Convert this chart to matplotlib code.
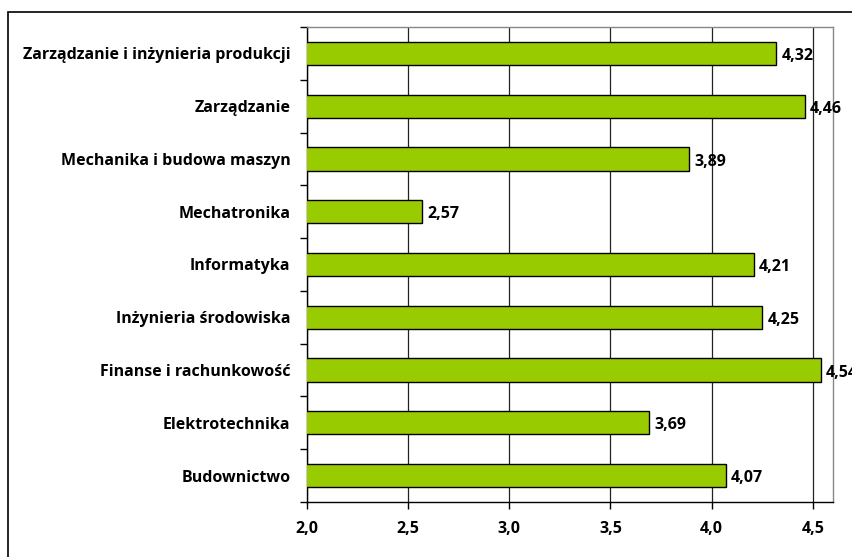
import matplotlib.pyplot as plt
from matplotlib.patches import Rectangle
from matplotlib.ticker import FixedLocator

categories = ["Zarządzanie i inżynieria produkcji", "Zarządzanie", "Mechanika i budowa maszyn",
              "Mechatronika", "Informatyka", "Inżynieria środowiska",
              "Finanse i rachunkowość", "Elektrotechnika", "Budownictwo"]
values = [4.32, 4.46, 3.89, 2.57, 4.21, 4.25, 4.54, 3.69, 4.07]
xticks = [2.0, 2.5, 3.0, 3.5, 4.0, 4.5]

plt.rcParams['font.family'] = ['Open Sans', 'DejaVu Sans']
plt.rcParams['font.weight'] = 'bold'
FS = 11.5

W, H = 852, 557
fig = plt.figure(figsize=(W / 100, H / 100), dpi=100)
ax = fig.add_axes([307 / W, (H - 502) / H, (833 - 307) / W, (502 - 27) / H])

# outer frame of the chart object (runs off the right and bottom edges)
fig.patches.append(Rectangle((8 / W, -0.1), 1.2, (H - 12) / H + 0.1, transform=fig.transFigure,
                             fill=False, edgecolor='black', linewidth=1.2))

n = len(categories)
ypos = list(range(n))[::-1]
ax.barh(ypos, values, height=0.44, left=0, color='#99CC00', edgecolor='black', linewidth=1.0, zorder=3)

for y, v in zip(ypos, values):
    ax.text(v + 0.025, y - 0.05, f"{v:.2f}".replace('.', ','), va='center', ha='left',
            fontsize=FS, fontweight='bold', clip_on=False)

ax.set_xlim(2.0, 4.6)
ax.set_ylim(-0.5, n - 0.5)
ax.set_xticks(xticks)
ax.set_xticklabels([f"{t:.1f}".replace('.', ',') for t in xticks], fontsize=FS, fontweight='bold')
ax.set_yticks(ypos)
ax.set_yticklabels(categories, fontsize=FS, fontweight='bold')
ax.yaxis.set_minor_locator(FixedLocator([i - 0.5 for i in range(n + 1)]))
ax.tick_params(axis='y', which='major', length=0, pad=12)
ax.tick_params(axis='y', which='minor', length=5, width=1, direction='out')
ax.tick_params(axis='x', which='major', length=5, width=1, direction='out', pad=9)

ax.grid(axis='x', color='#222222', linewidth=0.9, zorder=0)
ax.set_axisbelow(True)
for s in ['top', 'right']:
    ax.spines[s].set_color('#888888')
    ax.spines[s].set_linewidth(1)
for s in ['left', 'bottom']:
    ax.spines[s].set_color('black')
    ax.spines[s].set_linewidth(1)

fig.savefig('out.png', dpi=100)
